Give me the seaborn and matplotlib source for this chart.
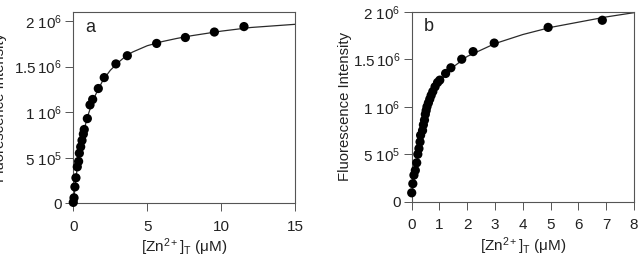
import pandas as pd
import matplotlib
matplotlib.use('Agg')
import matplotlib.pyplot as plt
import seaborn as sns

# data (x in uM, y in counts)
a_x = [0.0, 0.05, 0.11, 0.18, 0.27, 0.36, 0.41, 0.50, 0.59, 0.68, 0.74, 0.95,
       1.13, 1.31, 1.69, 2.09, 2.88, 3.65, 5.63, 7.57, 9.53, 11.53]
a_y = [0.01e6, 0.06e6, 0.18e6, 0.28e6, 0.40e6, 0.46e6, 0.55e6, 0.62e6, 0.69e6,
       0.76e6, 0.81e6, 0.93e6, 1.08e6, 1.14e6, 1.26e6, 1.38e6, 1.53e6, 1.62e6,
       1.755e6, 1.82e6, 1.88e6, 1.94e6]
a_fit_x = [0, 0.25, 0.5, 0.75, 1.0, 1.25, 1.5, 2.0, 2.5, 3.0, 3.5, 4.0, 5.0,
           6.0, 7.0, 8.0, 10.0, 12.0, 15.0]
a_fit_y = [0, 0.37e6, 0.63e6, 0.82e6, 0.97e6, 1.09e6, 1.19e6, 1.35e6, 1.46e6,
           1.54e6, 1.61e6, 1.66e6, 1.73e6, 1.775e6, 1.81e6, 1.84e6, 1.89e6,
           1.93e6, 1.965e6]

b_x = [0.0, 0.04, 0.08, 0.13, 0.18, 0.22, 0.26, 0.30, 0.32, 0.39, 0.42, 0.46,
       0.49, 0.52, 0.55, 0.60, 0.65, 0.70, 0.76, 0.84, 0.93, 1.01, 1.22, 1.41,
       1.80, 2.21, 2.97, 4.91, 6.86]
b_y = [0.094e6, 0.19e6, 0.28e6, 0.33e6, 0.41e6, 0.50e6, 0.56e6, 0.63e6, 0.70e6,
       0.75e6, 0.81e6, 0.86e6, 0.92e6, 0.96e6, 1.00e6, 1.04e6, 1.08e6, 1.12e6,
       1.16e6, 1.21e6, 1.255e6, 1.28e6, 1.35e6, 1.41e6, 1.50e6, 1.58e6, 1.67e6,
       1.835e6, 1.91e6]
b_fit_x = [0, 0.25, 0.5, 0.75, 1.0, 1.5, 2.0, 3.0, 4.0, 5.0, 6.0, 7.0, 8.0]
b_fit_y = [0.08e6, 0.53e6, 0.93e6, 1.15e6, 1.27e6, 1.42e6, 1.53e6, 1.665e6,
           1.76e6, 1.835e6, 1.89e6, 1.945e6, 1.99e6]

y_ticks = [0, 0.5e6, 1e6, 1.5e6, 2e6]
y_labels = ['0', r'5 10$^{5}$', r'1 10$^{6}$', r'1.5$\,$10$^{6}$', r'2 10$^{6}$']

sns.set_style('ticks')
plt.rcParams['font.family'] = ['Liberation Sans', 'DejaVu Sans']
plt.rcParams['mathtext.fontset'] = 'custom'
plt.rcParams['mathtext.rm'] = 'Liberation Sans'
plt.rcParams['mathtext.it'] = 'Liberation Sans:italic'
plt.rcParams['mathtext.default'] = 'regular'

fig = plt.figure(figsize=(6.4, 2.58), dpi=100)
ax_a = fig.add_axes([0.1145, 0.212, 0.347, 0.7415])
ax_b = fig.add_axes([0.6433, 0.218, 0.3473, 0.7366])

panels = [
    (ax_a, a_x, a_y, a_fit_x, a_fit_y, 'a', (0, 15), [0, 5, 10, 15], 2.1e6, -0.299),
    (ax_b, b_x, b_y, b_fit_x, b_fit_y, 'b', (0, 8), list(range(9)), 2.0e6, -0.269),
]

for ax, px, py, fx, fy, tag, xlim, xt, ytop, ylab_x in panels:
    pts = pd.DataFrame({'x': px, 'y': py})
    fit = pd.DataFrame({'x': fx, 'y': fy})
    sns.lineplot(data=fit, x='x', y='y', ax=ax, color='#2a2a2a', linewidth=0.9)
    sns.scatterplot(data=pts, x='x', y='y', ax=ax, color='black', s=44,
                    edgecolor='none', zorder=3, clip_on=False)
    ax.set_xlim(*xlim)
    ax.set_ylim(0, ytop)
    ax.set_xticks(xt)
    ax.set_yticks(y_ticks)
    ax.set_yticklabels(y_labels)
    ax.tick_params(axis='both', direction='out', length=6, width=0.7,
                   colors='#555555', labelcolor='#222222', labelsize=11, pad=2)
    ax.tick_params(axis='x', pad=6)
    for sp in ax.spines.values():
        sp.set_visible(True)
        sp.set_color('#555555')
        sp.set_linewidth(0.8)
    ax.set_xlabel(r'[Zn$^{2+}$]$_{T}$ ($\mu$M)', fontsize=11, color='#222222', labelpad=2)
    ax.set_ylabel('Fluorescence Intensity', fontsize=10.7, color='#222222')
    ax.yaxis.set_label_coords(ylab_x, 0.5)
    ax.text(0.055, 0.92, tag, transform=ax.transAxes, fontsize=13,
            color='#222222', va='center', ha='left')

fig.savefig('out.png', dpi=100)
